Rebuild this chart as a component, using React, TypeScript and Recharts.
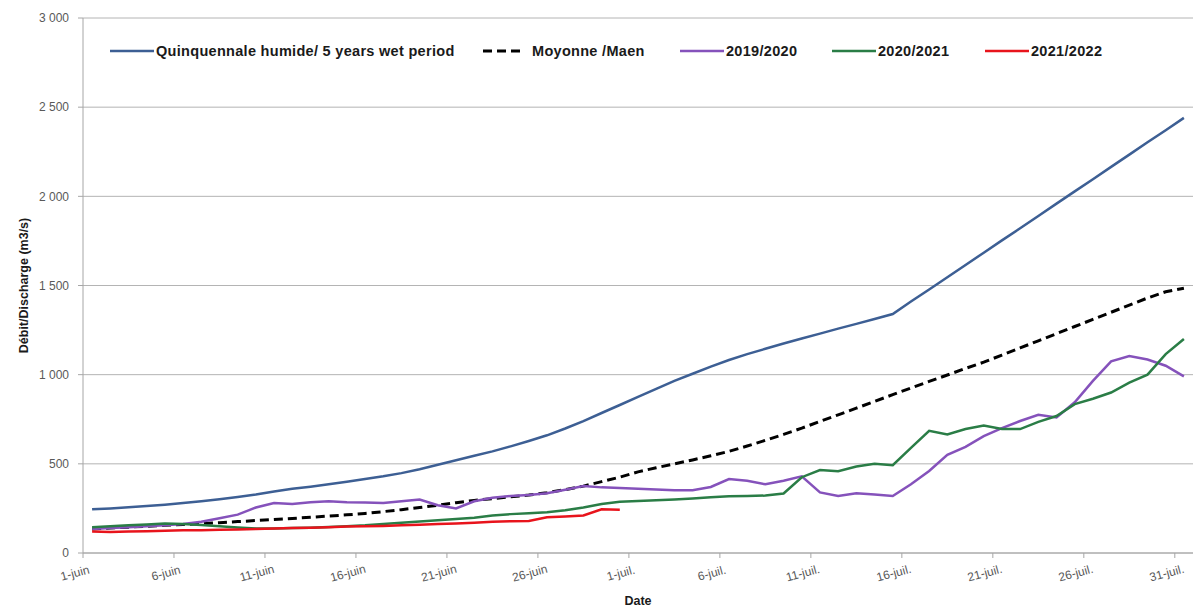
import React from 'react';
import { LineChart, Line, XAxis, YAxis, CartesianGrid } from 'recharts';

// daily discharge, 1 June -> 31 July
const quinquennale = [
  245, 250, 256, 263, 271, 280, 290, 302, 314, 328, 345, 360, 372, 385, 400, 415, 430, 448, 470, 495,
  520, 545, 570, 598, 628, 660, 698, 740, 785, 830, 875, 920, 965, 1005, 1045, 1082, 1115, 1145, 1175, 1203,
  1230, 1258, 1285, 1312, 1340, 1410, 1478, 1546, 1615, 1684, 1753, 1821, 1890, 1959, 2028, 2096, 2165, 2234, 2303, 2371,
  2440,
];
const moyenne = [
  135, 140, 145, 150, 155, 160, 165, 170, 176, 182, 188, 194, 200, 207, 214, 222, 232, 243, 255, 268,
  282, 295, 305, 315, 325, 338, 355, 375, 400, 425, 455, 478, 500, 522, 545, 570, 600, 632, 665, 700,
  738, 775, 812, 850, 888, 925, 962, 998, 1035, 1070, 1110, 1150, 1190, 1230, 1270, 1310, 1350, 1390, 1430, 1465,
  1485,
];
const y2019 = [
  135, 140, 145, 150, 155, 162, 175, 195, 215, 255, 280, 275, 285, 290, 285, 283, 280, 290, 300, 268,
  250, 290, 310, 320, 325, 335, 355, 375, 368, 365, 360, 356, 352, 352, 370, 415, 405, 385, 405, 430,
  340, 320, 335, 328, 320, 385, 460, 550, 595, 655, 700, 740, 775, 760, 845, 965, 1075, 1105, 1085, 1050,
  990,
];
const y2020 = [
  145, 150, 155, 160, 165, 162, 157, 150, 143, 138, 138, 140, 142, 146, 150, 155, 163, 170, 177, 184,
  190, 198, 210, 218, 223, 228, 240, 255, 275, 288, 292, 296, 300, 305, 312, 318, 320, 322, 334, 425,
  465, 458, 485, 500, 492, 590, 685, 665, 695, 715, 695, 695, 735, 768, 835, 865, 900, 955, 1000, 1115,
  1200,
];
const y2021 = [
  120, 118, 120, 122, 125, 127, 128, 130, 132, 135, 138, 140, 142, 145, 148, 150, 152, 155, 158, 162,
  166, 170, 175, 178, 180, 200, 205, 210, 245, 243,
];

const xTicks = [0, 5, 10, 15, 20, 25, 30, 35, 40, 45, 50, 55, 60];
const xTickLabels = [
  '1-juin', '6-juin', '11-juin', '16-juin', '21-juin', '26-juin',
  '1-juil.', '6-juil.', '11-juil.', '16-juil.', '21-juil.', '26-juil.', '31-juil.',
];
const yTicks = [0, 500, 1000, 1500, 2000, 2500, 3000];

const series = [
  { key: 'q', name: 'Quinquennale humide/ 5 years wet period', color: '#3d5f94', dash: undefined, legendX: 110 },
  { key: 'm', name: 'Moyonne /Maen', color: '#000000', dash: '9 5', legendX: 483 },
  { key: 'a', name: '2019/2020', color: '#8552bb', dash: undefined, legendX: 680 },
  { key: 'b', name: '2020/2021', color: '#2a7d46', dash: undefined, legendX: 832 },
  { key: 'c', name: '2021/2022', color: '#e8141c', dash: undefined, legendX: 985 },
];

// points sit in the middle of each day slot (date axis between tick marks)
const data = quinquennale.map((v, i) => ({
  x: i + 0.5,
  q: v,
  m: moyenne[i],
  a: y2019[i],
  b: y2020[i],
  c: i < y2021.length ? y2021[i] : null,
}));

const FONT = '"Liberation Sans", Arial, sans-serif';

const fmt = (v: number) => (v >= 1000 ? `${Math.floor(v / 1000)} ${String(v % 1000).padStart(3, '0')}` : String(v));

function DateTick({ x, y, payload }: any) {
  const idx = xTicks.indexOf(payload.value);
  return (
    <g transform={`translate(${x - 7},${y + 17})`}>
      <text textAnchor="middle" transform="rotate(-15)" fontSize={12} fill="#595959" fontFamily={FONT}>
        {xTickLabels[idx]}
      </text>
    </g>
  );
}

function LegendBox() {
  return (
    <div style={{ position: 'absolute', left: 0, top: 41, height: 20, fontFamily: FONT, fontSize: 14.5, fontWeight: 'bold', letterSpacing: 0.3, color: '#1a1a1a' }}>
      {series.map((s) => (
        <div key={s.key} style={{ position: 'absolute', left: s.legendX, top: 0, display: 'flex', alignItems: 'center', height: 20 }}>
          <svg width={44} height={8} style={{ display: 'block' }}>
            <line x1={0} y1={4} x2={s.dash ? 40 : 44} y2={4} stroke={s.color} strokeWidth={s.dash ? 3 : 2.5} strokeDasharray={s.dash} />
          </svg>
          <span style={{ marginLeft: s.dash ? 5 : 2, whiteSpace: 'nowrap' }}>{s.name}</span>
        </div>
      ))}
    </div>
  );
}

export default function App() {
  return (
    <div style={{ position: 'absolute', left: 0, top: 0, width: 1195, height: 610, background: '#fff' }}>
      <LineChart width={1195} height={610} data={data} margin={{ top: 18, right: 2, bottom: 10, left: 0 }}>
        <CartesianGrid vertical={false} stroke="#b4b4b4" />
        <XAxis
          dataKey="x"
          type="number"
          domain={[0, 61]}
          ticks={xTicks}
          interval={0}
          height={47}
          tick={<DateTick />}
          tickSize={5}
          stroke="#a6a6a6"
          label={{ value: 'Date', position: 'insideBottom', offset: -5, style: { fontFamily: FONT, fontSize: 12.5, fontWeight: 'bold', fill: '#1a1a1a' } }}
        />
        <YAxis
          type="number"
          domain={[0, 3000]}
          ticks={yTicks}
          width={83}
          tickSize={5}
          tickMargin={9}
          stroke="#a6a6a6"
          tickFormatter={fmt}
          tick={{ fontSize: 12, fill: '#595959', fontFamily: FONT }}
          label={{ value: 'Débit/Discharge (m3/s)', angle: -90, position: 'insideLeft', offset: 24, style: { textAnchor: 'middle', fontFamily: FONT, fontSize: 12.5, fontWeight: 'bold', fill: '#1a1a1a' } }}
        />
        {series.map((s) => (
          <Line
            key={s.key}
            dataKey={s.key}
            name={s.name}
            stroke={s.color}
            strokeWidth={s.dash ? 3 : 2.5}
            strokeDasharray={s.dash}
            dot={false}
            type="linear"
            connectNulls={false}
            isAnimationActive={false}
          />
        ))}
      </LineChart>
      <LegendBox />
    </div>
  );
}
